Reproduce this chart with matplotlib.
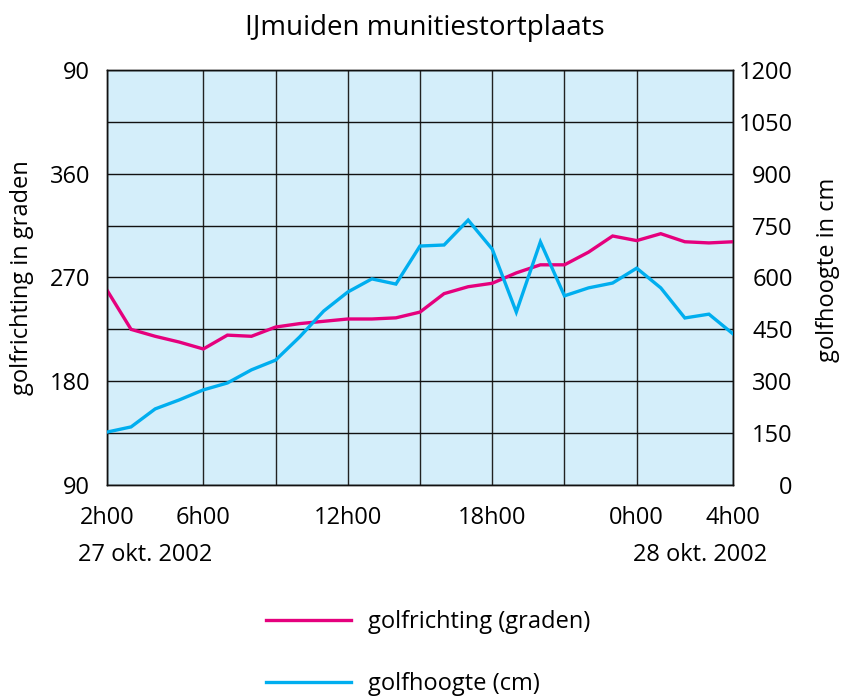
import matplotlib
matplotlib.use("Agg")
import matplotlib.pyplot as plt
from matplotlib.lines import Line2D

plt.rcParams['font.family'] = ['Open Sans', 'DejaVu Sans']

# hours since 2h00 on 27 okt. 2002
hours = list(range(27))
golfrichting = [259, 225, 219, 214, 208, 220, 219, 227, 230, 232, 234, 234, 235, 240,
                256, 262, 265, 274, 281, 281, 292, 306, 302, 308, 301, 300, 301]
golfhoogte = [153, 168, 220, 246, 275, 295, 333, 361, 428, 503, 558, 596, 581, 691,
              694, 766, 682, 500, 703, 547, 570, 584, 627, 570, 483, 494, 437]

xtick_pos = [0, 4, 10, 16, 22, 26]
xtick_labels = ['2h00', '6h00', '12h00', '18h00', '0h00', '4h00']
xgrid_pos = [0, 4, 7, 10, 13, 16, 19, 22, 26]
left_ticks = [90, 180, 270, 360, 450]
left_labels = ['90', '180', '270', '360', '90']
right_ticks = list(range(0, 1201, 150))

magenta = '#e5007d'
cyan = '#00aeef'

fig = plt.figure(figsize=(8.41, 6.97), dpi=100)
ax = fig.add_axes([107/841, 1-485/697, (733-107)/841, (485-70)/697])
ax.set_facecolor('#d4eefa')
ax.set_xlim(0, 26)
ax.set_ylim(90, 450)

ax2 = ax.twinx()
ax2.set_ylim(0, 1200)

# grid
for xg in xgrid_pos:
    ax.axvline(xg, color='#222222', lw=1.0, zorder=1)
for yg in right_ticks:
    ax.axhline(90 + yg * 360 / 1200, color='#111111', lw=1.0, zorder=1)

ax.plot(hours, golfrichting, color=magenta, lw=2.4, zorder=3, solid_joinstyle='miter')
ax2.plot(hours, golfhoogte, color=cyan, lw=2.4, zorder=3, solid_joinstyle='miter')

fs = 17
ax.set_xticks(xtick_pos)
ax.set_xticklabels(xtick_labels)
ax.set_yticks(left_ticks)
ax.set_yticklabels(left_labels)
ax2.set_yticks(right_ticks)
ax2.set_yticklabels([str(v) for v in right_ticks], ha='right')

ax.tick_params(axis='both', length=0, labelsize=fs)
ax.tick_params(axis='y', pad=12)
ax.tick_params(axis='x', pad=15)
ax2.tick_params(axis='y', length=0, labelsize=fs, pad=43)
for sp in list(ax.spines.values()) + list(ax2.spines.values()):
    sp.set_color('#111111')
    sp.set_linewidth(1.0)

fig.text(22/841, 1-278/697, 'golfrichting in graden', fontsize=fs, rotation=90,
         ha='center', va='center')
fig.text(828/841, 1-270/697, 'golfhoogte in cm', fontsize=fs, rotation=90,
         ha='center', va='center')

fig.text(425/841, 1-28/697, 'IJmuiden munitiestortplaats', fontsize=20,
         ha='center', va='center')
fig.text(78/841, 1-555/697, '27 okt. 2002', fontsize=fs, ha='left', va='center')
fig.text(767/841, 1-555/697, '28 okt. 2002', fontsize=fs, ha='right', va='center')

handles = [Line2D([], [], color=magenta, lw=2.4), Line2D([], [], color=cyan, lw=2.4)]
fig.legend(handles, ['golfrichting (graden)', 'golfhoogte (cm)'],
           loc='upper left', bbox_to_anchor=(245/841, 1-589/697),
           frameon=False, fontsize=fs, handlelength=3.6, handletextpad=0.7,
           labelspacing=1.6)

fig.savefig('out.png', dpi=100)
